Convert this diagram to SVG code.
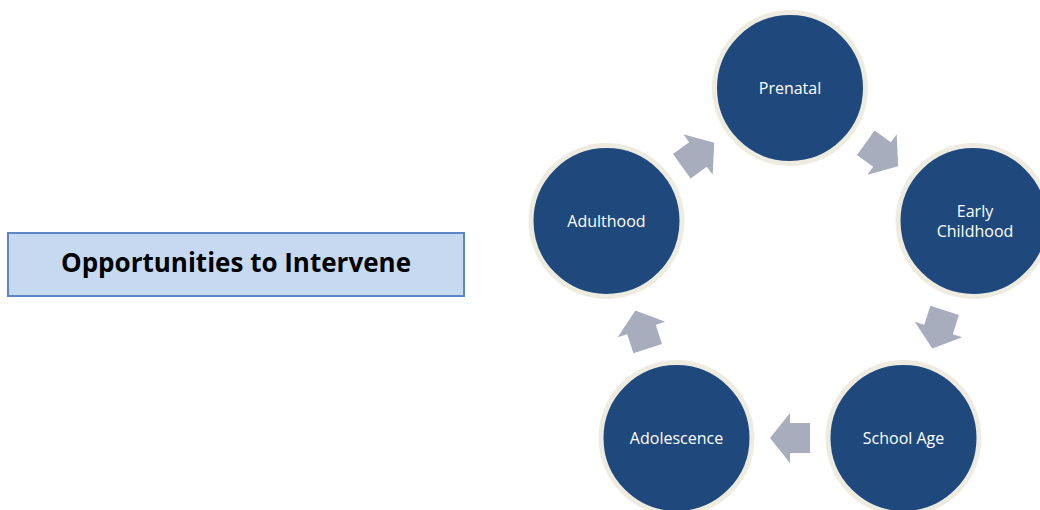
<svg xmlns="http://www.w3.org/2000/svg" width="1040" height="510" viewBox="0 0 1040 510">
<defs>
<style>
.node circle{fill:#1F497D;stroke:#EEECE1;stroke-width:5}
.node text{fill:#FFFFFF;font-family:"Open Sans","Liberation Sans",sans-serif;font-size:16px;text-anchor:middle}
.arrow{fill:#A7ADBD}
.title rect{fill:#C6D9F1;stroke:#5A88C4;stroke-width:2}
.title text{fill:#000;font-family:"Open Sans","Liberation Sans",sans-serif;font-weight:bold;font-size:26px;text-anchor:middle}
</style>
<path id="arr" d="M-20,-15 L0,-15 L0,-25 L20,0 L0,25 L0,15 L-20,15 Z"/>
</defs>
<rect width="1040" height="510" fill="#FFFFFF"/>
<g id="title" class="title">
<rect x="8" y="233" width="456" height="63"/>
<text x="236" y="272">Opportunities to Intervene</text>
</g>
<g id="connectors" class="arrow">
<use href="#arr" transform="translate(882,154.5) rotate(36)"/>
<use href="#arr" transform="translate(938.5,329.5) rotate(108)"/>
<use href="#arr" transform="translate(790,438) rotate(180)"/>
<use href="#arr" transform="translate(641.5,329.5) rotate(252)"/>
<use href="#arr" transform="translate(698,154.5) rotate(-36)"/>
</g>
<g id="prenatal" class="node">
<circle cx="790" cy="88" r="75.5"/>
<text x="790" y="93.5">Prenatal</text>
</g>
<g id="early-childhood" class="node">
<circle cx="973.5" cy="221" r="75.5"/>
<text x="975" y="217">Early</text>
<text x="975" y="237">Childhood</text>
</g>
<g id="school-age" class="node">
<circle cx="903.5" cy="438" r="75.5"/>
<text x="903.5" y="443.5">School Age</text>
</g>
<g id="adolescence" class="node">
<circle cx="676.5" cy="438" r="75.5"/>
<text x="676.5" y="443.5">Adolescence</text>
</g>
<g id="adulthood" class="node">
<circle cx="606.5" cy="221" r="75.5"/>
<text x="606.5" y="226.5">Adulthood</text>
</g>
</svg>
